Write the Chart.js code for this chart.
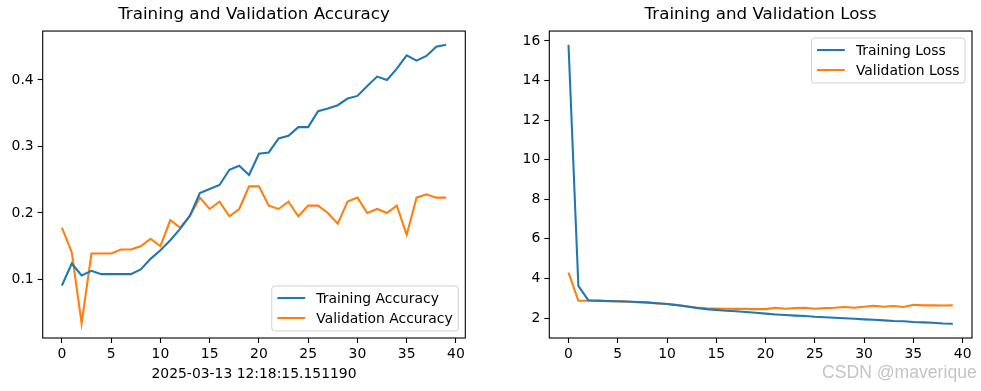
<!DOCTYPE html>
<html>
<head>
<meta charset="utf-8">
<script src="https://cdn.jsdelivr.net/npm/chart.js@4.4.1/dist/chart.umd.min.js"></script>
<style>
  html, body { margin: 0; padding: 0; background: #fff; }
  #wrap { position: relative; width: 981px; height: 391px; overflow: hidden; }
  canvas { position: absolute; top: 0; }
  #acc { left: 0; }
  #loss { left: 490px; }
  #mark { position: absolute; left: 822px; top: 362px; font-family: 'Liberation Sans', Arial, sans-serif;
          font-size: 17.6px; color: #c4c4c4; white-space: nowrap; }
</style>
</head>
<body>
<div id="wrap">
  <canvas id="acc" width="490" height="391"></canvas>
  <canvas id="loss" width="491" height="391"></canvas>
  <div id="mark">CSDN @maverique</div>
</div>
<script>
const epochs = [0, 1, 2, 3, 4, 5, 6, 7, 8, 9, 10, 11, 12, 13, 14, 15, 16, 17, 18, 19,
                20, 21, 22, 23, 24, 25, 26, 27, 28, 29, 30, 31, 32, 33, 34, 35, 36, 37, 38, 39];

const trainAcc = [0.091, 0.124, 0.106, 0.113, 0.108, 0.108, 0.108, 0.108, 0.115, 0.131,
                  0.144, 0.159, 0.176, 0.196, 0.230, 0.236, 0.242, 0.265, 0.271, 0.257,
                  0.289, 0.291, 0.312, 0.316, 0.329, 0.329, 0.353, 0.357, 0.362, 0.372,
                  0.376, 0.391, 0.405, 0.400, 0.417, 0.437, 0.429, 0.436, 0.450, 0.453];
const valAcc = [0.178, 0.141, 0.034, 0.139, 0.139, 0.139, 0.145, 0.145, 0.150, 0.161,
                0.150, 0.189, 0.178, 0.196, 0.223, 0.206, 0.217, 0.195, 0.206, 0.240,
                0.240, 0.211, 0.206, 0.217, 0.195, 0.211, 0.211, 0.200, 0.184, 0.217,
                0.223, 0.200, 0.206, 0.200, 0.211, 0.167, 0.223, 0.228, 0.223, 0.223];

const trainLoss = [15.8, 3.62, 2.90, 2.88, 2.86, 2.85, 2.83, 2.81, 2.79, 2.75,
                   2.71, 2.65, 2.58, 2.51, 2.45, 2.41, 2.37, 2.34, 2.30, 2.27,
                   2.22, 2.18, 2.15, 2.12, 2.10, 2.06, 2.04, 2.01, 1.99, 1.96,
                   1.93, 1.91, 1.88, 1.85, 1.84, 1.80, 1.78, 1.76, 1.72, 1.71];
const valLoss = [4.29, 2.87, 2.87, 2.86, 2.85, 2.84, 2.82, 2.80, 2.77, 2.74,
                 2.71, 2.66, 2.59, 2.53, 2.49, 2.48, 2.47, 2.46, 2.46, 2.45,
                 2.45, 2.52, 2.47, 2.50, 2.52, 2.47, 2.50, 2.52, 2.56, 2.52,
                 2.57, 2.62, 2.57, 2.61, 2.56, 2.67, 2.64, 2.64, 2.63, 2.64];

const xTicks = [0, 5, 10, 15, 20, 25, 30, 35, 40];
const accTicks = [0.1, 0.2, 0.3, 0.4];
const lossTicks = [2, 4, 6, 8, 10, 12, 14, 16];

const stamp = '2025-03-13 12:18:15.151190';

Chart.defaults.font.family = 'DejaVu Sans';
Chart.defaults.font.size = 13.9;
Chart.defaults.color = '#000';

const BLUE = '#1f77b4', ORANGE = '#ff7f0e';

// frame (all four spines) + matplotlib style legend inside the axes
const boxLegend = {
  id: 'boxLegend',
  afterDatasetsDraw(chart, args, opts) {
    const ctx = chart.ctx, a = chart.chartArea;
    ctx.save();
    ctx.strokeStyle = '#000';
    ctx.lineWidth = 1.1;
    ctx.strokeRect(a.left, a.top, a.width, a.height);

    ctx.font = '13.9px "DejaVu Sans"';
    const sets = chart.data.datasets;
    const textW = Math.max(...sets.map(d => ctx.measureText(d.label).width));
    const w = 5.6 * 2 + 27.8 + 11.1 + textW;
    const h = 45;
    const x = a.right - 7 - w;
    const y = opts.corner === 'lower' ? a.bottom - 7 - h : a.top + 7;

    ctx.beginPath();
    ctx.roundRect(x, y, w, h, 3);
    ctx.fillStyle = 'rgba(255,255,255,0.8)';
    ctx.fill();
    ctx.strokeStyle = '#d0d0d0';
    ctx.lineWidth = 1;
    ctx.stroke();

    sets.forEach((d, i) => {
      const cy = y + 12 + i * 20;
      ctx.beginPath();
      ctx.moveTo(x + 5.6, cy);
      ctx.lineTo(x + 5.6 + 27.8, cy);
      ctx.strokeStyle = d.borderColor;
      ctx.lineWidth = 2.08;
      ctx.stroke();
      ctx.fillStyle = '#000';
      ctx.textBaseline = 'middle';
      ctx.fillText(d.label, x + 5.6 + 27.8 + 11.1, cy + 1);
    });
    ctx.restore();
  }
};

function pts(ys) {
  return epochs.map((e, i) => ({ x: e, y: ys[i] }));
}

function makeChart(id, title, sets, yMin, yMax, yTicks, yFmt, opts) {
  return new Chart(document.getElementById(id), {
    type: 'line',
    data: {
      datasets: sets.map(s => ({
        label: s.label,
        data: pts(s.data),
        borderColor: s.color,
        backgroundColor: s.color,
        borderWidth: 2.08,
        pointRadius: 0,
        tension: 0,
        fill: false
      }))
    },
    options: {
      responsive: false,
      animation: false,
      devicePixelRatio: 1,
      layout: { padding: { left: 0, right: opts.right, top: 0, bottom: 0 } },
      plugins: {
        legend: { display: false },
        tooltip: { enabled: false },
        title: {
          display: true,
          text: title,
          fullSize: false,
          color: '#000',
          font: { size: 16.7, weight: 'normal', lineHeight: 1.2 },
          padding: { top: 5, bottom: 6 }
        },
        boxLegend: { corner: opts.corner }
      },
      scales: {
        x: {
          type: 'linear',
          min: -1.95,
          max: 40.95,
          afterBuildTicks: s => { s.ticks = xTicks.map(v => ({ value: v })); },
          afterFit: s => { s.height = 53; },
          ticks: { color: '#000', padding: 3, maxRotation: 0, autoSkip: false },
          grid: { display: true, drawOnChartArea: false, drawTicks: true, tickLength: 5,
                  tickColor: '#000', tickWidth: 1.1 },
          border: { display: false },
          title: {
            display: !!opts.xTitle,
            text: opts.xTitle || '',
            color: '#000',
            font: { size: 13.9 },
            padding: { top: 0, bottom: 8 }
          }
        },
        y: {
          min: yMin,
          max: yMax,
          afterBuildTicks: s => { s.ticks = yTicks.map(v => ({ value: v })); },
          afterFit: s => { s.width = opts.yWidth; },
          ticks: { color: '#000', padding: 4, callback: yFmt },
          grid: { display: true, drawOnChartArea: false, drawTicks: true, tickLength: 5,
                  tickColor: '#000', tickWidth: 1.1 },
          border: { display: false }
        }
      }
    },
    plugins: [boxLegend]
  });
}

makeChart('acc', 'Training and Validation Accuracy',
  [{ label: 'Training Accuracy', data: trainAcc, color: BLUE },
   { label: 'Validation Accuracy', data: valAcc, color: ORANGE }],
  0.012, 0.4735, accTicks, v => v.toFixed(1),
  { right: 24.7, yWidth: 42.7, corner: 'lower', xTitle: stamp });

makeChart('loss', 'Training and Validation Loss',
  [{ label: 'Training Loss', data: trainLoss, color: BLUE },
   { label: 'Validation Loss', data: valLoss, color: ORANGE }],
  0.99, 16.5, lossTicks, v => String(v),
  { right: 9, yWidth: 59.3, corner: 'upper' });
</script>
</body>
</html>
